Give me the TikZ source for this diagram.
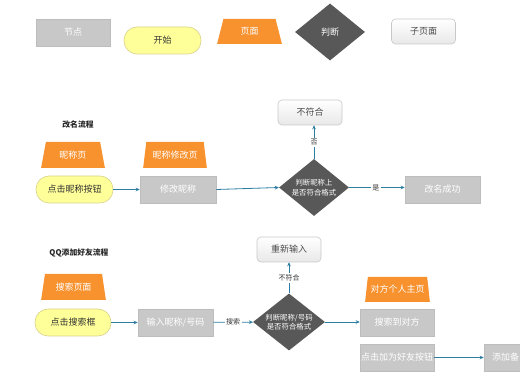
\documentclass[tikz,border=0pt]{standalone}
\usepackage{fontspec}
\setmainfont{Noto Sans CJK SC}
\usetikzlibrary{shapes.geometric,arrows.meta}
\definecolor{boxgray}{HTML}{C8C8C8}
\definecolor{boxedge}{HTML}{BDBDBD}
\definecolor{startfill}{HTML}{FFFF99}
\definecolor{startedge}{HTML}{D8D28C}
\definecolor{pageorange}{HTML}{F7922F}
\definecolor{decgray}{HTML}{585858}
\definecolor{subedge}{HTML}{C8C8C8}
\definecolor{flow}{HTML}{2B7EA1}
\definecolor{txt}{HTML}{333333}
\begin{document}
\begin{tikzpicture}[x=1pt,y=-1pt,
  font=\fontsize{9}{11}\selectfont,
  gbox/.style={rectangle, fill=boxgray, draw=boxedge, line width=0.6pt, text=white,
    minimum width=#1, minimum height=27, inner sep=1pt},
  gbox/.default=75,
  startbox/.style={rectangle, rounded corners=13, fill=startfill, draw=startedge,
    line width=0.6pt, text=txt, minimum width=77, minimum height=27, inner sep=1pt},
  pagebox/.style={trapezium, trapezium left angle=76, trapezium right angle=76,
    trapezium stretches=true, fill=pageorange, text=white,
    minimum width=65, minimum height=25, inner sep=1pt},
  decbox/.style={diamond, fill=decgray, minimum width=#1, minimum height=57, inner sep=0pt},
  decbox/.default=70,
  dectext/.style={text=white, align=center, font=\fontsize{7.4}{9.5}\selectfont},
  subbox/.style={rectangle, rounded corners=4, top color=white, bottom color=black!9,
    draw=subedge, line width=0.6pt, text=black!70, minimum width=64, minimum height=25, inner sep=1pt},
  flowline/.style={draw=flow, line width=0.8pt, -{Stealth[length=4pt,width=3.6pt]}},
  elabel/.style={fill=white, text=txt, font=\fontsize{7}{8}\selectfont, inner sep=1.5pt},
  titletext/.style={text=black!85, font=\fontsize{7.8}{9}\selectfont\bfseries}
]
\useasboundingbox (0,0) rectangle (520,390);
\clip (0,0) rectangle (520,390);

% legend
\node[gbox=74] (lnode) at (73,32.5) {节点};
\node[startbox] (lstart) at (162.5,40.5) {开始};
\node[pagebox] (lpage) at (249.5,31.5) {页面};
\node[decbox] (ldec) at (330,32) {};
\node[dectext, font=\fontsize{9}{11}\selectfont] (ldectext) at (ldec.center) {判断};
\node[subbox] (lsub) at (423.5,31.5) {子页面};

% section 1
\node[titletext] (title1) at (78,125) {改名流程};
\node[pagebox, minimum width=64, minimum height=26] (p1) at (73,155) {昵称页};
\node[pagebox, minimum width=64, minimum height=26] (p2) at (175,155) {昵称修改页};
\node[startbox] (s1) at (74.5,189.5) {点击昵称按钮};
\node[gbox=76] (r1) at (178,189.5) {修改昵称};
\node[decbox] (d1) at (314,187.5) {};
\node[dectext] (d1text) at (d1.center) {判断昵称上\\是否符合格式};
\node[subbox] (sub1) at (310,112.5) {不符合};
\node[gbox=75] (r2) at (442.5,189.5) {改名成功};

\draw[flowline] (s1) -- (r1);
\draw[flowline] (r1.east) -- (d1.west);
\draw[flowline] (d1.north) -- node[elabel]{否} (d1.north |- sub1.south);
\draw[flowline] (d1.east) -- node[elabel, pos=0.48]{是} (r2.west |- d1.east);

% section 2
\node[titletext] (title2) at (79,253) {QQ添加好友流程};
\node[pagebox, minimum width=65, minimum height=26] (p3) at (73.5,287) {搜索页面};
\node[startbox, minimum width=76] (s2) at (73,322.5) {点击搜索框};
\node[gbox=75] (r3) at (175.5,322.5) {输入昵称/号码};
\node[decbox=72] (d2) at (289,322) {};
\node[dectext] (d2text) at (d2.center) {判断昵称/号码\\是否符合格式};
\node[subbox] (sub2) at (289,249.5) {重新输入};
\node[pagebox] (p4) at (397.5,289.5) {对方个人主页};
\node[gbox=74] (r4) at (397,322.5) {搜索到对方};
\node[gbox=74] (r5) at (397,357.5) {点击加为好友按钮};
\node[gbox=76, align=left, text width=60, inner xsep=8pt] (r6) at (522,357.5) {添加备};

\draw[flowline] (s2) -- (r3);
\draw[flowline] (r3) -- node[elabel]{搜索} (d2);
\draw[flowline] (d2) -- node[elabel]{不符合} (sub2);
\draw[flowline] (d2.east) -- (r4.west |- d2.east);
\draw[flowline] (r5) -- (r6);
\end{tikzpicture}
\end{document}
